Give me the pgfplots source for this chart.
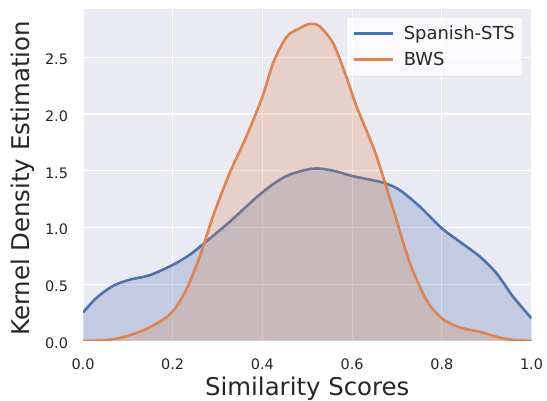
\documentclass[border=0pt]{standalone}
\usepackage{pgfplots}
\usepackage{pgfplotstable}
\pgfplotsset{compat=1.18}
\usepackage{fontspec}
\setmainfont{DejaVu Sans}
\definecolor{sbblue}{HTML}{4C72B0}
\definecolor{sborange}{HTML}{DD8452}
\definecolor{sbbg}{HTML}{EAEAF2}
\definecolor{sbtext}{HTML}{262626}

\pgfplotstableread{
x y
0.000 0.25
0.030 0.38
0.067 0.485
0.104 0.54
0.149 0.58
0.200 0.67
0.238 0.76
0.279 0.89
0.327 1.05
0.400 1.31
0.454 1.454
0.513 1.519
0.558 1.50
0.600 1.454
0.669 1.395
0.706 1.33
0.751 1.184
0.800 0.993
0.840 0.875
0.885 0.743
0.922 0.596
0.959 0.39
1.000 0.20
}\sts

\pgfplotstableread{
x y
0.000 0.0
0.067 0.015
0.126 0.08
0.171 0.17
0.200 0.26
0.230 0.45
0.260 0.74
0.290 1.10
0.327 1.48
0.364 1.80
0.400 2.15
0.424 2.45
0.454 2.68
0.483 2.755
0.506 2.794
0.528 2.77
0.558 2.62
0.587 2.33
0.610 2.065
0.647 1.71
0.669 1.45
0.699 1.066
0.729 0.685
0.766 0.36
0.800 0.20
0.840 0.12
0.885 0.08
0.929 0.03
0.959 0.01
1.000 0.0
}\bws

\begin{document}
\begin{tikzpicture}
\begin{axis}[
  name=ax, at={(83bp,60bp)}, anchor=south west,
  scale only axis, width=448.5bp, height=332bp,
  xmin=0, xmax=1, ymin=0, ymax=2.925,
  axis background/.style={fill=sbbg},
  axis line style={draw=none},
  grid=major, major grid style={white, line width=1.1bp},
  major tick length=0pt, tick style={draw=none},
  xtick={0,0.2,0.4,0.6,0.8,1.0}, ytick={0,0.5,1.0,1.5,2.0,2.5},
  /pgf/number format/.cd, fixed, fixed zerofill, precision=1, assume math mode=true,
  /pgfplots/.cd,
  tick label style={font=\fontsize{14.5}{16}\selectfont, text=sbtext},
  xticklabel style={anchor=base, yshift=-28.5bp},
  yticklabel style={anchor=base east, xshift=-11.5bp, yshift=-7.5bp},
  xlabel={Similarity Scores}, ylabel={Kernel Density Estimation},
  label style={font=\fontsize{24.5}{28}\selectfont, text=sbtext},
  xlabel style={at={(axis description cs:0.5,0)}, anchor=base, yshift=-54.5bp},
  ylabel style={at={(axis description cs:-0.1193,0.49)}, anchor=base},
  legend style={at={(rel axis cs:1,1)}, anchor=north east, xshift=-8.5bp, yshift=-8bp,
    fill=white, fill opacity=0.8, text opacity=1, draw=black!15, rounded corners=2bp,
    font=\fontsize{18}{20}\selectfont, text=sbtext, row sep=7bp,
    inner xsep=6bp, inner ysep=7bp,
    /tikz/every odd column/.append style={column sep=7.5bp}},
  legend cell align=left,
  legend image code/.code={\draw[#1] (0bp,0bp) -- (39bp,0bp);},
]
\addplot[draw=none, fill=sbblue, fill opacity=0.25, smooth, forget plot] table {\sts} \closedcycle;
\addplot[sbblue, line width=2.6bp, smooth] table {\sts};
\addplot[draw=none, fill=sborange, fill opacity=0.25, smooth, forget plot] table {\bws} \closedcycle;
\addplot[sborange, line width=2.6bp, smooth] table {\bws};
\legend{Spanish-STS, BWS}
\end{axis}
\pgfresetboundingbox
\path[use as bounding box] (0bp,0bp) rectangle (547bp,401bp);
\end{tikzpicture}
\end{document}
